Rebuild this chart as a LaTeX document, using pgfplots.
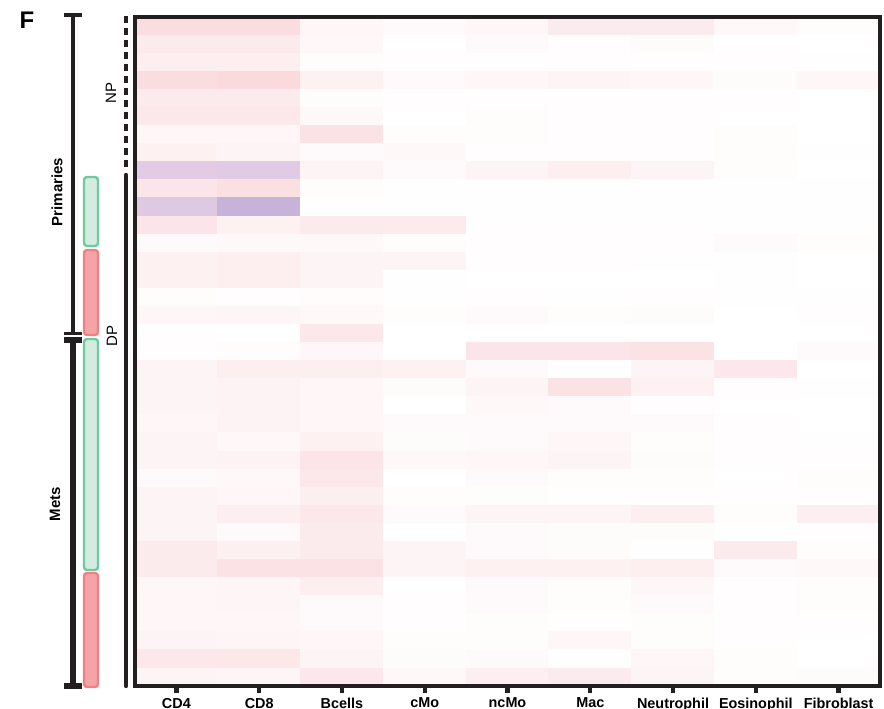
\documentclass[border=0pt]{standalone}
\usepackage{pgfplots}
\pgfplotsset{compat=1.18}
\usepackage{fontspec}
\setmainfont{Liberation Sans}
\definecolor{frame}{RGB}{35,31,32}
\definecolor{gbord}{RGB}{112,202,160}
\definecolor{gfill}{RGB}{212,235,224}
\definecolor{rbord}{RGB}{240,128,134}
\definecolor{rfill}{RGB}{244,164,167}
\begin{document}
\begin{tikzpicture}
\begin{axis}[
  at={(67.5pt,11pt)}, anchor=south west,
  scale only axis, width=372.5pt, height=334.5pt,
  xmin=-0.5, xmax=8.5, ymin=-0.5, ymax=36.5, y dir=reverse,
  enlargelimits=false,
  axis line style={line width=2.2pt, draw=frame},
  xtick={0,...,8},
  xticklabels={CD4,CD8,Bcells,cMo,ncMo,Mac,Neutrophil,Eosinophil,Fibroblast},
  ytick=\empty,
  xtick pos=bottom, tick align=outside,
  major tick length=3.5pt,
  tick style={line width=2.2pt, draw=frame},
  x tick label style={font=\bfseries\fontsize{7.2}{8}\selectfont, inner sep=0pt, anchor=north, yshift=-2.3pt},
  colormap={hm}{rgb255(0cm)=(190,170,212); rgb255(4cm)=(215,195,225); rgb255(7cm)=(230,205,228); rgb255(10cm)=(255,255,255); rgb255(20cm)=(247,198,203)},
  point meta min=-1, point meta max=1,
  clip=false,
  axis on top,
]
\addplot[matrix plot*, mesh/cols=9, point meta=explicit] coordinates {
(0,0)[0.6] (1,0)[0.6] (2,0)[0.15] (3,0)[0.1] (4,0)[0.15] (5,0)[0.35] (6,0)[0.35] (7,0)[0.12] (8,0)[0.05]
(0,1)[0.35] (1,1)[0.35] (2,1)[0.12] (3,1)[0] (4,1)[0.1] (5,1)[0.03] (6,1)[0.07] (7,1)[0] (8,1)[0]
(0,2)[0.3] (1,2)[0.3] (2,2)[0.05] (3,2)[0.03] (4,2)[0.04] (5,2)[0.04] (6,2)[0.04] (7,2)[0.04] (8,2)[0.02]
(0,3)[0.6] (1,3)[0.65] (2,3)[0.25] (3,3)[0.1] (4,3)[0.15] (5,3)[0.2] (6,3)[0.15] (7,3)[0.07] (8,3)[0.15]
(0,4)[0.35] (1,4)[0.35] (2,4)[0.05] (3,4)[0.03] (4,4)[0.04] (5,4)[0.03] (6,4)[0.04] (7,4)[0.04] (8,4)[0]
(0,5)[0.4] (1,5)[0.4] (2,5)[0.12] (3,5)[0] (4,5)[0.05] (5,5)[0.03] (6,5)[0.03] (7,5)[0] (8,5)[0]
(0,6)[0.15] (1,6)[0.15] (2,6)[0.5] (3,6)[0.05] (4,6)[0.05] (5,6)[0.04] (6,6)[0.03] (7,6)[0.06] (8,6)[0]
(0,7)[0.25] (1,7)[0.2] (2,7)[0.08] (3,7)[0.12] (4,7)[0.04] (5,7)[0.04] (6,7)[0.03] (7,7)[0.06] (8,7)[0.01]
(0,8)[-0.35] (1,8)[-0.4] (2,8)[0.2] (3,8)[0.08] (4,8)[0.2] (5,8)[0.3] (6,8)[0.2] (7,8)[0.05] (8,8)[0]
(0,9)[0.45] (1,9)[0.55] (2,9)[0.06] (3,9)[0.02] (4,9)[0.02] (5,9)[0.02] (6,9)[0.01] (7,9)[0.01] (8,9)[0.01]
(0,10)[-0.45] (1,10)[-0.85] (2,10)[0.02] (3,10)[0.02] (4,10)[0.02] (5,10)[0.02] (6,10)[0.01] (7,10)[0.01] (8,10)[0.01]
(0,11)[0.45] (1,11)[0.25] (2,11)[0.35] (3,11)[0.35] (4,11)[0.02] (5,11)[0.02] (6,11)[0.01] (7,11)[0.01] (8,11)[0.01]
(0,12)[0.1] (1,12)[0.12] (2,12)[0.12] (3,12)[0.05] (4,12)[0.03] (5,12)[0.03] (6,12)[0.03] (7,12)[0.08] (8,12)[0.05]
(0,13)[0.25] (1,13)[0.3] (2,13)[0.2] (3,13)[0.2] (4,13)[0.03] (5,13)[0.03] (6,13)[0.02] (7,13)[0.01] (8,13)[0]
(0,14)[0.25] (1,14)[0.3] (2,14)[0.2] (3,14)[0.02] (4,14)[0] (5,14)[0] (6,14)[0] (7,14)[0.01] (8,14)[0]
(0,15)[0.05] (1,15)[0.03] (2,15)[0.05] (3,15)[0.02] (4,15)[0.04] (5,15)[0.02] (6,15)[0.03] (7,15)[0.02] (8,15)[0.02]
(0,16)[0.15] (1,16)[0.18] (2,16)[0.12] (3,16)[0.05] (4,16)[0.08] (5,16)[0.06] (6,16)[0.07] (7,16)[0] (8,16)[0.04]
(0,17)[0.02] (1,17)[0] (2,17)[0.4] (3,17)[0] (4,17)[0] (5,17)[0] (6,17)[0] (7,17)[0] (8,17)[0]
(0,18)[0.03] (1,18)[0.05] (2,18)[0.15] (3,18)[0] (4,18)[0.45] (5,18)[0.45] (6,18)[0.5] (7,18)[0] (8,18)[0.08]
(0,19)[0.2] (1,19)[0.28] (2,19)[0.3] (3,19)[0.25] (4,19)[0.08] (5,19)[0.02] (6,19)[0.2] (7,19)[0.4] (8,19)[0]
(0,20)[0.2] (1,20)[0.22] (2,20)[0.15] (3,20)[0.07] (4,20)[0.2] (5,20)[0.5] (6,20)[0.25] (7,20)[0.04] (8,20)[0.02]
(0,21)[0.2] (1,21)[0.22] (2,21)[0.15] (3,21)[0] (4,21)[0.12] (5,21)[0.08] (6,21)[0.03] (7,21)[0] (8,21)[0]
(0,22)[0.15] (1,22)[0.22] (2,22)[0.15] (3,22)[0.08] (4,22)[0.1] (5,22)[0.08] (6,22)[0.1] (7,22)[0.03] (8,22)[0]
(0,23)[0.2] (1,23)[0.13] (2,23)[0.25] (3,23)[0.07] (4,23)[0.1] (5,23)[0.15] (6,23)[0.05] (7,23)[0.03] (8,23)[0.01]
(0,24)[0.2] (1,24)[0.22] (2,24)[0.45] (3,24)[0.12] (4,24)[0.15] (5,24)[0.2] (6,24)[0.07] (7,24)[0.03] (8,24)[0.04]
(0,25)[0.08] (1,25)[0.12] (2,25)[0.4] (3,25)[0] (4,25)[0.08] (5,25)[0.05] (6,25)[0.05] (7,25)[0] (8,25)[0.05]
(0,26)[0.2] (1,26)[0.15] (2,26)[0.3] (3,26)[0.06] (4,26)[0.05] (5,26)[0.04] (6,26)[0.04] (7,26)[0.03] (8,26)[0.03]
(0,27)[0.2] (1,27)[0.3] (2,27)[0.4] (3,27)[0.1] (4,27)[0.2] (5,27)[0.2] (6,27)[0.3] (7,27)[0.05] (8,27)[0.3]
(0,28)[0.2] (1,28)[0.1] (2,28)[0.35] (3,28)[0] (4,28)[0.08] (5,28)[0.07] (6,28)[0.07] (7,28)[0.02] (8,28)[0.03]
(0,29)[0.35] (1,29)[0.27] (2,29)[0.35] (3,29)[0.2] (4,29)[0.08] (5,29)[0.07] (6,29)[0.02] (7,29)[0.35] (8,29)[0.06]
(0,30)[0.35] (1,30)[0.5] (2,30)[0.5] (3,30)[0.2] (4,30)[0.25] (5,30)[0.25] (6,30)[0.3] (7,30)[0.08] (8,30)[0.12]
(0,31)[0.15] (1,31)[0.17] (2,31)[0.3] (3,31)[0] (4,31)[0.1] (5,31)[0.06] (6,31)[0.15] (7,31)[0.03] (8,31)[0.05]
(0,32)[0.15] (1,32)[0.17] (2,32)[0.1] (3,32)[0.04] (4,32)[0.08] (5,32)[0.05] (6,32)[0.08] (7,32)[0.03] (8,32)[0.05]
(0,33)[0.15] (1,33)[0.15] (2,33)[0.08] (3,33)[0.03] (4,33)[0.05] (5,33)[0.03] (6,33)[0.05] (7,33)[0.02] (8,33)[0.04]
(0,34)[0.2] (1,34)[0.17] (2,34)[0.15] (3,34)[0.05] (4,34)[0.05] (5,34)[0.15] (6,34)[0.05] (7,34)[0.03] (8,34)[0]
(0,35)[0.4] (1,35)[0.42] (2,35)[0.2] (3,35)[0.07] (4,35)[0.08] (5,35)[0.02] (6,35)[0.15] (7,35)[0.05] (8,35)[0]
(0,36)[0.2] (1,36)[0.17] (2,36)[0.4] (3,36)[0.12] (4,36)[0.3] (5,36)[0.35] (6,36)[0.2] (7,36)[0.05] (8,36)[0.07]
};
\end{axis}
\begin{scope}[x=0.5pt, y=-0.5pt, shift={(0pt,354pt)}]
  % Primaries / Mets brackets
  \draw[frame, line width=2pt] (73,15) -- (73,333.5);
  \draw[frame, line width=2pt] (64,15) -- (82,15);
  \draw[frame, line width=1.8pt] (64,333.5) -- (82,333.5);
  \draw[frame, line width=2.6pt] (64,340) -- (82,340);
  \draw[frame, line width=2.8pt] (73,340) -- (73,686);
  \draw[frame, line width=2.8pt] (64,686) -- (82,686);
  % colour bars
  \draw[gbord, fill=gfill, line width=1.2pt, rounded corners=1.5pt] (84,177) rectangle (98,246);
  \draw[rbord, fill=rfill, line width=1.2pt, rounded corners=1.5pt] (84,250) rectangle (98,335);
  \draw[gbord, fill=gfill, line width=1.2pt, rounded corners=1.5pt] (84,339) rectangle (98,570);
  \draw[rbord, fill=rfill, line width=1.2pt, rounded corners=1.5pt] (84,573) rectangle (98,687);
  % NP / DP
  \draw[frame, line width=2.2pt, dash pattern=on 3.5pt off 2.5pt] (126,16) -- (126,168);
  \draw[frame, line width=2.2pt, line cap=round] (126,175) -- (126,686);
  % labels
  \node[rotate=90, font=\bfseries\fontsize{7.5}{9}\selectfont] at (57,192) {Primaries};
  \node[rotate=90, font=\bfseries\fontsize{7.5}{9}\selectfont] at (55,504) {Mets};
  \node[rotate=90, font=\fontsize{7.5}{9}\selectfont] at (111,93) {NP};
  \node[rotate=90, font=\fontsize{7.5}{9}\selectfont] at (112,336) {DP};
  \node[font=\bfseries\fontsize{12}{14}\selectfont] at (27,20) {F};
\end{scope}
\pgfresetboundingbox
\path (0,0) rectangle (442pt,354pt);
\end{tikzpicture}
\end{document}
